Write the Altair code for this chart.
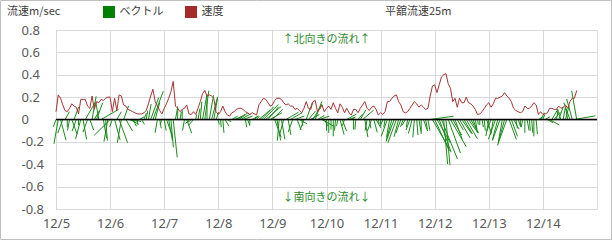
import altair as alt
import numpy as np
import pandas as pd

# ---- data: hourly current speed (m/s) starting 12/5 00:00 ----
speed_1205 = [0.07,0.22,0.19,0.13,0.08,0.07,0.10,0.14,0.12,0.11,0.05,0.18,0.18,0.18,0.12,0.10,0.21,0.09,0.16,0.15,0.18,0.17,0.19,0.20]
speed_1206 = [0.20,0.07,0.19,0.08,0.22,0.21,0.13,0.12,0.09,0.08,0.07,0.06,0.05,0.05,0.05,0.06,0.08,0.14,0.21,0.27,0.16,0.12,0.08,0.05]
speed_1207 = [0.10,0.14,0.19,0.25,0.34,0.12,0.10,0.07,0.09,0.10,0.13,0.05,0.045,0.07,0.045,0.10,0.16,0.23,0.26,0.21,0.22,0.21,0.19,0.07]
speed_1208 = [0.045,0.07,0.12,0.07,0.04,0.03,0.06,0.07,0.09,0.10,0.10,0.09,0.07,0.06,0.045,0.06,0.05,0.04,0.13,0.16,0.19,0.18,0.15,0.12]
speed_1209 = [0.13,0.17,0.19,0.19,0.18,0.15,0.13,0.14,0.12,0.12,0.09,0.10,0.08,0.06,0.10,0.16,0.10,0.09,0.16,0.17,0.07,0.09,0.13,0.07]
speed_1210 = [0.10,0.12,0.09,0.15,0.10,0.06,0.14,0.11,0.06,0.10,0.06,0.04,0.09,0.09,0.06,0.10,0.13,0.16,0.10,0.08,0.11,0.12,0.09,0.04]
speed_1211 = [0.06,0.045,0.07,0.16,0.16,0.19,0.21,0.22,0.16,0.13,0.07,0.06,0.07,0.10,0.13,0.16,0.14,0.11,0.13,0.11,0.09,0.10,0.21,0.30]
speed_1212 = [0.31,0.24,0.31,0.38,0.40,0.41,0.32,0.28,0.16,0.19,0.11,0.19,0.15,0.15,0.20,0.15,0.14,0.12,0.09,0.045,0.05,0.07,0.10,0.13]
speed_1213 = [0.15,0.11,0.14,0.19,0.19,0.20,0.21,0.24,0.21,0.19,0.16,0.10,0.08,0.07,0.06,0.07,0.12,0.10,0.10,0.12,0.15,0.13,0.045,0.07]
speed_1214 = [0.045,0.05,0.06,0.10,0.10,0.09,0.09,0.12,0.10,0.11,0.13,0.10,0.16,0.19,0.19,0.26]

# ---- data: hourly current direction (degrees, flowing toward; 0 = north) ----
dir_1205 = [200,190,165,200,30,180,190,160,20,200,180,195,170,30,200,160,10,30,20,350,60,170,175,190]
dir_1206 = [225,200,165,30,160,190,20,150,100,120,150,110,170,60,150,20,10,10,20,20,15,190,170,200]
dir_1207 = [170,160,170,175,174,10,0,10,0,190,160,220,230,220,10,10,5,10,8,0,10,15,10,20]
dir_1208 = [170,175,175,150,120,90,60,70,60,55,60,70,170,160,180,60,50,40,50,45,45,50,40,60]
dir_1209 = [45,160,170,185,170,195,60,170,60,200,70,160,120,170,200,20,40,60,30,20,60,70,120,150]
dir_1210 = [180,180,180,180,185,190,165,160,200,60,70,60,180,185,40,30,50,170,190,170,200,165,150,170]
dir_1211 = [180,200,190,200,190,195,200,200,195,200,200,210,190,200,195,185,175,170,180,160,170,170,82,150]
dir_1212 = [155,150,160,158,175,175,160,150,150,160,150,150,145,150,150,145,150,160,170,170,180,170,175,160]
dir_1213 = [190,200,190,200,195,200,190,195,200,160,160,150,170,160,180,190,180,170,175,175,180,175,60,30]
dir_1214 = [20,60,120,120,30,40,10,20,340,10,15,350,340,345,80,350]

day_labels = ["12/5","12/6","12/7","12/8","12/9","12/10","12/11","12/12","12/13","12/14"]
y_ticks = [-0.8,-0.6,-0.4,-0.2,0,0.2,0.4,0.6,0.8]

speed = np.array(speed_1205+speed_1206+speed_1207+speed_1208+speed_1209+
                 speed_1210+speed_1211+speed_1212+speed_1213+speed_1214)
direction = np.array(dir_1205+dir_1206+dir_1207+dir_1208+dir_1209+
                     dir_1210+dir_1211+dir_1212+dir_1213+dir_1214, dtype=float)
assert len(speed) == len(direction)

W, H = 541, 179
K = (H / 1.6) / (W / 10.0)   # days per (m/s) so that vectors keep true angle

t = np.arange(len(speed)) / 24.0
rad = np.deg2rad(direction)
north = speed * np.cos(rad)
east = speed * np.sin(rad)

df = pd.DataFrame({"t": t, "speed": speed, "t2": t + east * K,
                   "v": north, "zero": 0.0})

GREEN = "#1a8a1a"
RED = "#a83232"
FONT = "Noto Sans, Noto Sans CJK JP"
JFONT = "Noto Sans CJK JP"

x_scale = alt.Scale(domain=[0, 10], nice=False)
y_scale = alt.Scale(domain=[-0.8, 0.8], nice=False)

x_axis = alt.Axis(values=list(range(len(day_labels))),
                  labelExpr="'12/' + (datum.value + 5)",
                  title=None, domain=False, ticks=False, tickSize=0,
                  labelPadding=8, labelFontSize=13, labelColor="#595959",
                  labelFont=FONT, gridColor="#d9d9d9", labelFlush=False,
                  labelOverlap=False)
y_axis = alt.Axis(values=y_ticks,
                  labelExpr="(datum.value < 0 ? '-' : '') + format(abs(datum.value), '.1~f')",
                  title=None, domain=False, ticks=False, tickSize=0,
                  labelAlign="left", labelPadding=35, labelFontSize=13,
                  labelColor="#595959", labelFont=FONT, gridColor="#d9d9d9",
                  labelOverlap=False, labelFlush=False)

X = lambda f: alt.X(f, scale=x_scale, axis=x_axis)
Y = lambda f: alt.Y(f, scale=y_scale, axis=y_axis)

vectors = alt.Chart(df).mark_rule(color=GREEN, strokeWidth=1).encode(
    x=X("t:Q"), x2="t2:Q", y=Y("zero:Q"), y2="v:Q",
)

line = alt.Chart(df).mark_line(color=RED, strokeWidth=1).encode(
    x=X("t:Q"), y=Y("speed:Q"),
)

zero_df = pd.DataFrame({"y": [0.0]})
zero_line = alt.Chart(zero_df).mark_rule(color="black", strokeWidth=1.3).encode(
    y=Y("y:Q"),
)

ann_df = pd.DataFrame({"t": [5.0, 5.0], "y": [0.71, -0.70],
                       "label": ["↑北向きの流れ↑", "↓南向きの流れ↓"]})
annotations = alt.Chart(ann_df).mark_text(
    color="#2a8a2a", font=JFONT, fontSize=11, align="center", baseline="middle"
).encode(
    x=X("t:Q"), y=Y("y:Q"), text="label:N",
)

one = pd.DataFrame({"a": [0]})
frame = alt.Chart(one).mark_rect(filled=False, stroke="#c0c0c0", strokeWidth=1).encode(
    x=alt.value(-55.5), x2=alt.value(555.5), y=alt.value(-29.5), y2=alt.value(209.5)
)

def label(text, x, size=11, color="#404040"):
    return alt.Chart(one).mark_text(
        text=text, font=JFONT, fontSize=size, color=color,
        align="left", baseline="middle"
    ).encode(x=alt.value(x), y=alt.value(-18))

def swatch(x, color):
    return alt.Chart(one).mark_rect(color=color).encode(
        x=alt.value(x), x2=alt.value(x + 12), y=alt.value(-24), y2=alt.value(-12)
    )

chart = alt.layer(
    frame, vectors, line, zero_line, annotations,
    label("流速m/sec", -49),
    swatch(47, "#008000"), label("ベクトル", 63.5),
    swatch(129, "#a52a2a"), label("速度", 145.5),
    label("平舘流速25m", 329),
).properties(
    width=W, height=H,
    padding={"left": 56, "top": 30, "right": 15, "bottom": 31},
    autosize=alt.AutoSizeParams(type="none"),
).configure_view(stroke="#d9d9d9", strokeWidth=1).configure(background="white")

chart.save("out.html", embed_options={"renderer": "svg", "actions": False})
